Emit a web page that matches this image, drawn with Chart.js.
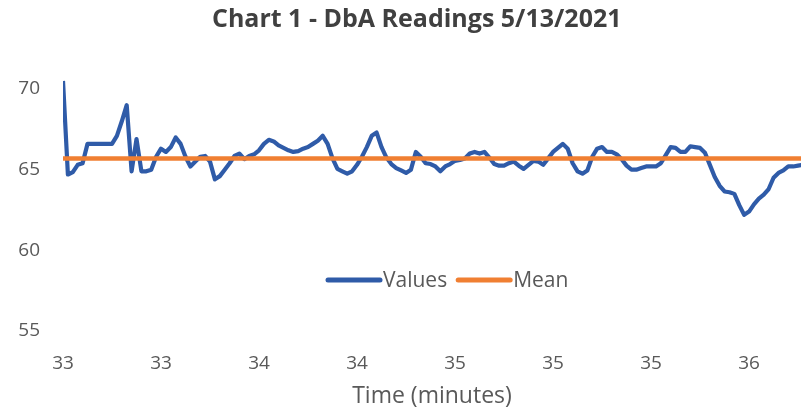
<!DOCTYPE html>
<html>
<head>
<meta charset="utf-8">
<script src="https://cdn.jsdelivr.net/npm/chart.js@4"></script>
<style>
html,body{margin:0;padding:0;background:#fff;}
#wrap{width:801px;height:411px;}
</style>
</head>
<body>
<div id="wrap"><canvas id="c" width="801" height="411"></canvas></div>
<script>
const chartTitle = 'Chart 1 - DbA Readings 5/13/2021';
const xAxisTitle = 'Time (minutes)';
const xTickLabels = ['33','33','34','34','35','35','35','36'];
const xTickEvery = 20;
const yTickValues = [55, 60, 65, 70];
const meanValue = 65.7;
const readings = [
70.5,64.7,64.85,65.3,65.4,66.6,66.6,66.6,66.6,66.6,
66.6,67.1,68.0,69.0,64.9,66.9,64.9,64.9,65.0,65.8,
66.3,66.1,66.4,67.0,66.6,65.8,65.2,65.5,65.8,65.85,
65.5,64.4,64.6,65.0,65.4,65.85,66.0,65.65,65.85,65.95,
66.2,66.6,66.85,66.75,66.5,66.35,66.2,66.1,66.15,66.3,
66.4,66.6,66.8,67.1,66.6,65.7,65.05,64.9,64.75,64.9,
65.3,65.8,66.4,67.1,67.3,66.4,65.75,65.35,65.1,64.95,
64.8,65.0,66.1,65.8,65.4,65.35,65.2,64.9,65.2,65.35,
65.55,65.6,65.7,66.0,66.1,66.0,66.1,65.75,65.35,65.25,
65.25,65.4,65.5,65.25,65.05,65.3,65.55,65.5,65.3,65.7,
66.1,66.35,66.6,66.3,65.4,64.9,64.75,64.95,65.8,66.3,
66.4,66.1,66.1,65.95,65.65,65.25,65.0,65.0,65.1,65.2,
65.2,65.2,65.4,65.9,66.4,66.35,66.1,66.1,66.45,66.4,
66.35,66.05,65.3,64.55,64.0,63.65,63.6,63.5,62.8,62.2,
62.4,62.85,63.2,63.45,63.8,64.5,64.8,64.95,65.2,65.2,
65.25,65.3
];
const seriesNames = ['Values', 'Mean'];
const seriesColors = ['#2F5BA8', '#F07F32'];

const valuePoints = readings.map((v, i) => ({x: i, y: v}));
const meanPoints = [{x: 0, y: meanValue}, {x: readings.length - 1, y: meanValue}];

const FONT = "'Open Sans', 'DejaVu Sans', sans-serif";
const TXT = '#595959';

const legendPlugin = {
  id: 'innerLegend',
  afterDatasetsDraw(chart) {
    const ctx = chart.ctx;
    const a = chart.chartArea;
    let x = a.left + 265;
    const y = a.top + 220;
    ctx.save();
    ctx.font = "21px " + FONT;
    ctx.textBaseline = 'middle';
    ctx.lineCap = 'round';
    seriesNames.forEach((name, i) => {
      ctx.strokeStyle = seriesColors[i];
      ctx.lineWidth = 5;
      ctx.beginPath();
      ctx.moveTo(x, y);
      ctx.lineTo(x + 52, y);
      ctx.stroke();
      ctx.fillStyle = TXT;
      ctx.fillText(name, x + 55, y + 1);
      x += 55 + ctx.measureText(name).width + 11;
    });
    ctx.restore();
  }
};

new Chart(document.getElementById('c'), {
  type: 'line',
  data: {
    datasets: [
      {label: seriesNames[0], data: valuePoints, borderColor: seriesColors[0], borderWidth: 4.2,
       pointRadius: 0, tension: 0, order: 1, borderJoinStyle: 'round'},
      {label: seriesNames[1], data: meanPoints, borderColor: seriesColors[1], borderWidth: 4.5,
       pointRadius: 0, tension: 0, order: 0}
    ]
  },
  options: {
    responsive: false,
    animation: false,
    events: [],
    layout: {padding: 0},
    plugins: {
      legend: {display: false},
      tooltip: {enabled: false},
      title: {
        display: true, text: '     ' + chartTitle, color: '#404040',
        font: {family: FONT, size: 25, weight: 'bold'},
        padding: {top: 5, bottom: 25}
      }
    },
    scales: {
      x: {
        type: 'linear', min: 0, max: 150.6,
        grid: {display: false, drawTicks: false},
        border: {display: false},
        afterBuildTicks(s) { s.ticks = xTickLabels.map((_, i) => ({value: i * xTickEvery})); },
        afterFit(s) { s.height = 61; },
        ticks: {
          color: TXT, font: {family: FONT, size: 19}, padding: 2, maxRotation: 0, autoSkip: false,
          callback(v) { return xTickLabels[Math.round(v / xTickEvery)]; }
        },
        title: {display: true, text: xAxisTitle, color: TXT, font: {family: FONT, size: 23}, padding: {top: 0, bottom: 1}}
      },
      y: {
        min: 53.82, max: 71.8,
        grid: {display: false, drawTicks: false},
        border: {display: false},
        afterBuildTicks(s) { s.ticks = yTickValues.map(v => ({value: v})); },
        afterFit(s) { s.width = 63; },
        ticks: {color: TXT, font: {family: FONT, size: 19}, padding: 23}
      }
    }
  },
  plugins: [legendPlugin]
});
</script>
</body>
</html>
